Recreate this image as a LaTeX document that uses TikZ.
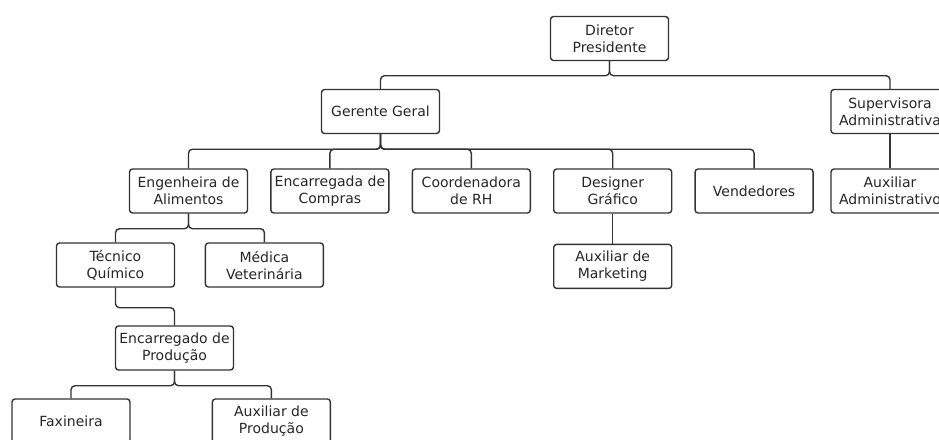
\documentclass[tikz,border=0pt]{standalone}
\usepackage{fontspec}
\setmainfont{DejaVu Sans}
\usetikzlibrary{positioning}

\begin{document}
\begin{tikzpicture}[x=1pt, y=1pt, node distance=22pt]
  \tikzstyle{cargo}=[draw=black!80, line width=1.4pt, rounded corners=3pt, minimum width=118pt, minimum height=44pt, align=center, inner sep=1pt, font=\fontsize{14}{17}\selectfont, text=black!85]
  \tikzstyle{ligacao}=[draw=black!80, line width=1.4pt, rounded corners=4pt]
  \clip (0,0) rectangle (939,-439);
  \node[cargo] (dir) at (609.5,-38.5) {Diretor\\Presidente};
  \node[cargo] (ger) at (380.5,-111.5) {Gerente Geral};
  \node[cargo] (sup) at (890,-111.5) {Supervisora\\Administrativa};
  \node[cargo] (eng) at (188.5,-191) {Engenheira de\\Alimentos};
  \node[cargo, right=of eng] (com) {Encarregada de\\Compras};
  \node[cargo, right=of com] (rh) {Coordenadora\\de RH};
  \node[cargo, right=of rh] (des) {Designer\\Gráfico};
  \node[cargo, right=of des] (ven) {Vendedores};
  \node[cargo] (auxadm) at (890,-191) {Auxiliar\\Administrativo};
  \node[cargo] (tec) at (115.5,-265) {Técnico\\Químico};
  \node[cargo, right=29.5pt of tec] (med) {Médica\\Veterinária};
  \node[cargo, below=30pt of des] (mkt) {Auxiliar de\\Marketing};
  \node[cargo] (encp) at (174.5,-348) {Encarregado de\\Produção};
  \node[cargo] (fax) at (71,-421) {Faxineira};
  \node[cargo, right=81pt of fax] (auxp) {Auxiliar de\\Produção};
  % ligacoes
  \draw[ligacao] (dir.south) -- ++(0,-14.5) -| (ger.north);
  \draw[ligacao] (dir.south) -- ++(0,-14.5) -| (sup.north);
  \foreach \filho in {eng,com,rh,des,ven}
    \draw[ligacao] (ger.south) -- ++(0,-15) -| (\filho.north);
  \draw[ligacao] (sup.south) -- (auxadm.north);
  \draw[ligacao] (eng.south) -- ++(0,-15) -| (tec.north);
  \draw[ligacao] (eng.south) -- ++(0,-15) -| (med.north);
  \draw[ligacao] (des.south) -- (mkt.north);
  \draw[ligacao] (tec.south) -- ++(0,-20) -| (encp.north);
  \draw[ligacao] (encp.south) -- ++(0,-15) -| (fax.north);
  \draw[ligacao] (encp.south) -- ++(0,-15) -| (auxp.north);
\end{tikzpicture}
\end{document}
